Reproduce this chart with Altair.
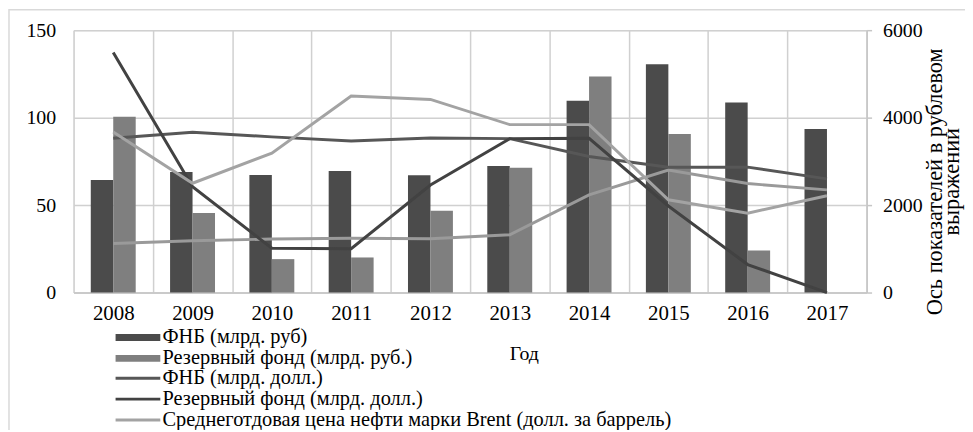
import altair as alt
import pandas as pd

years = ["2008", "2009", "2010", "2011", "2012", "2013", "2014", "2015", "2016", "2017"]

fnb_rub = [2575, 2757, 2689, 2780, 2681, 2894, 4387, 5219, 4349, 3742]
rf_rub = [4023, 1818, 764, 802, 1871, 2855, 4939, 3628, 962, 0]

fnb_usd = [88.2, 91.6, 89.0, 86.7, 88.4, 88.0, 77.8, 71.6, 71.7, 65.0]
rf_usd = [137.3, 60.5, 25.3, 25.1, 61.5, 88.0, 88.2, 49.5, 16.0, 0.0]
brent = [91.8, 62.5, 79.7, 112.3, 110.4, 96.0, 96.0, 53.0, 45.4, 55.3]
usd_rate = [28.0, 29.6, 30.6, 31.0, 30.8, 33.0, 55.8, 70.0, 62.3, 58.7]

bar_names = ["ФНБ (млрд. руб)", "Резервный фонд (млрд. руб.)"]
line_names = [
    "ФНБ (млрд. долл.)",
    "Резервный фонд (млрд. долл.)",
    "Среднеготдовая цена нефти марки Brent (долл. за баррель)",
]

bar_colors = ["#4b4b4b", "#7f7f7f"]
line_colors = ["#575757", "#424242", "#a3a3a3"]
rate_color = "#9a9a9a"

FONT = "Liberation Serif"
GRID = "#d0d0d0"

bars_df = pd.DataFrame({
    "Год": years * 2,
    "Серия": [bar_names[0]] * len(years) + [bar_names[1]] * len(years),
    "Значение": fnb_rub + rf_rub,
})
lines_df = pd.DataFrame({
    "Год": years * 3,
    "Серия": sum([[n] * len(years) for n in line_names], []),
    "Значение": fnb_usd + rf_usd + brent,
})
rate_df = pd.DataFrame({"Год": years, "Значение": usd_rate})

x_scale = alt.Scale(domain=years, paddingInner=0, paddingOuter=0)
x_axis = alt.Axis(
    title="Год", tickBand="extent", grid=True, gridColor=GRID, gridWidth=1.5,
    ticks=False, domainColor="#c6c6c6", domainWidth=1.5,
    labelFont=FONT, labelFontSize=21, labelColor="black", labelPadding=10, labelAngle=0,
    titleFont=FONT, titleFontSize=20, titleFontWeight="normal", titleColor="black",
    titleX=453, titleY=67, titleBaseline="alphabetic",
)

left_axis = alt.Axis(
    orient="left", values=[0, 50, 100, 150], grid=True, gridColor=GRID, gridWidth=1.5,
    domain=False, ticks=False, labelPadding=18,
    labelFont=FONT, labelFontSize=20, labelColor="black", title=None,
)

right_axis = alt.Axis(
    orient="right", values=[0, 2000, 4000, 6000], format="d", grid=False,
    domainColor="#c6c6c6", domainWidth=1.5, tickColor="#c6c6c6", tickWidth=1.5, tickSize=5,
    labelPadding=11, labelFont=FONT, labelFontSize=20, labelColor="black",
    title=["Ось показателей в рублевом", "выражении"], titleAngle=270,
    titleFont=FONT, titleFontSize=22.5, titleFontWeight="normal", titleColor="black",
    titleX=57, titleY=152, titleAlign="center", titleBaseline="top", titleLineHeight=17,
)

frame_df = pd.DataFrame({"k": [0]})
frame = alt.Chart(frame_df).mark_rect(
    fill="transparent", stroke="#d9d9d9", strokeWidth=1.5
).encode(
    x=alt.value(-65), x2=alt.value(1000), y=alt.value(-20.5), y2=alt.value(500)
)

bars = alt.Chart(bars_df).mark_bar().encode(
    x=alt.X("Год:N", scale=x_scale, axis=x_axis, sort=years),
    xOffset=alt.XOffset(
        "Серия:N", sort=bar_names,
        scale=alt.Scale(domain=bar_names, paddingInner=0, paddingOuter=0.765),
    ),
    y=alt.Y("Значение:Q", scale=alt.Scale(domain=[0, 6000]), axis=right_axis),
    fill=alt.Fill(
        "Серия:N",
        scale=alt.Scale(domain=bar_names, range=bar_colors),
        legend=alt.Legend(
            orient="none", legendX=37, legendY=299, title=None, padding=0,
            symbolType="M-1,-0.7H8V0.7H-1Z", symbolSize=100, symbolStrokeWidth=0,
            labelOffset=32, labelFont=FONT, labelFontSize=20.5, labelColor="black",
            labelLimit=700, rowPadding=0,
        ),
    ),
)

lines = alt.Chart(lines_df).mark_line(strokeWidth=3).encode(
    x=alt.X("Год:N", scale=x_scale, axis=x_axis, sort=years),
    y=alt.Y("Значение:Q", scale=alt.Scale(domain=[0, 150]), axis=left_axis),
    stroke=alt.Stroke(
        "Серия:N",
        scale=alt.Scale(domain=line_names, range=line_colors),
        legend=alt.Legend(
            orient="none", legendX=37, legendY=340, title=None, padding=0,
            symbolType="M-1,0H8", symbolSize=100, symbolStrokeWidth=3,
            labelOffset=32, labelFont=FONT, labelFontSize=20.5, labelColor="black",
            labelLimit=700, rowPadding=0,
        ),
    ),
)

rate = alt.Chart(rate_df).mark_line(strokeWidth=3, color=rate_color).encode(
    x=alt.X("Год:N", scale=x_scale, axis=x_axis, sort=years),
    y=alt.Y("Значение:Q", scale=alt.Scale(domain=[0, 150]), axis=left_axis),
)

chart = alt.layer(
    frame, bars, alt.layer(rate, lines)
).resolve_scale(
    y="independent"
).properties(
    width=798, height=264,
    autosize=alt.AutoSizeParams(type="none"),
    padding={"left": 66, "top": 21, "right": 99, "bottom": 137},
).configure_view(
    stroke=None
).configure(
    background="white"
)

chart.save("out.html", embed_options={"renderer": "svg", "actions": False})
